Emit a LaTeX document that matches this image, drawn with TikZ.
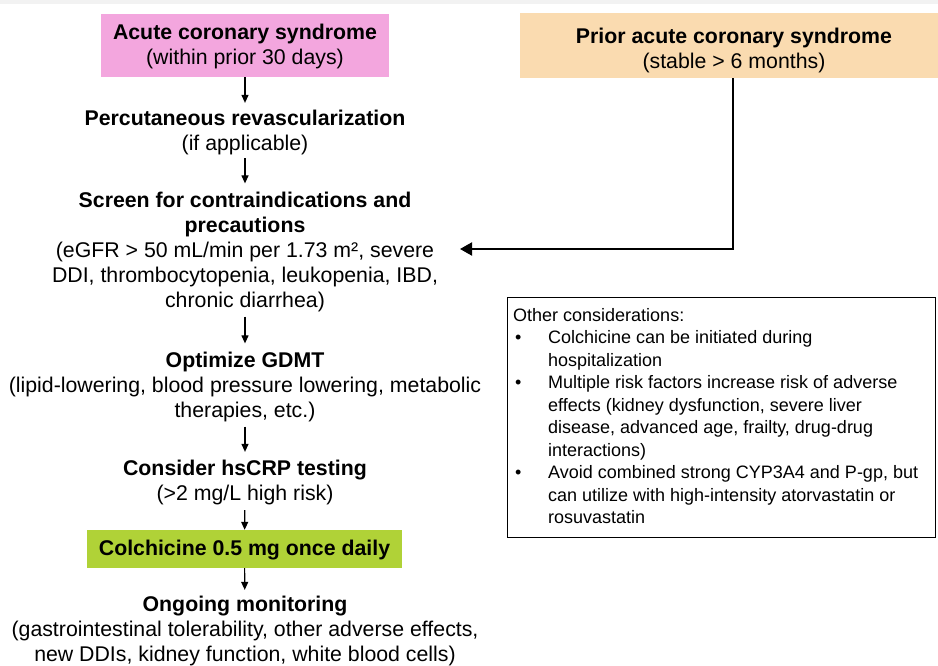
\documentclass[tikz,border=0pt]{standalone}
\usepackage{fontspec}
\setmainfont{Liberation Sans}
\usetikzlibrary{arrows.meta}
\definecolor{pinkbox}{RGB}{243,166,222}
\definecolor{orangebox}{RGB}{250,219,176}
\definecolor{greenbox}{RGB}{176,210,55}
\definecolor{topband}{RGB}{242,242,242}
\begin{document}
\begin{tikzpicture}[x=1pt,y=-1pt,
  txt/.style={align=center,inner sep=0pt,font=\fontsize{21.3}{25}\selectfont},
  colbox/.style={txt,minimum width=#1},
  arr/.style={-{Triangle[width=7pt,length=8pt]},line width=1.2pt},
  bigarr/.style={-{Triangle[width=13pt,length=12pt]},line width=2pt},
  note/.style={align=left,inner sep=0pt,font=\fontsize{18}{22.5}\selectfont}]
\useasboundingbox (0,0) rectangle (938,666);
\fill[topband] (0,0) rectangle (938,4);

% boxes
\node[colbox=288pt,minimum height=63pt,fill=pinkbox] (acs) at (245,45.5) {};
\node[txt] (acstxt) at (245,46.5)
  {\textbf{Acute coronary syndrome}\\(within prior 30 days)};
\node[colbox=428pt,minimum height=65pt,fill=orangebox] (prior) at (734,45.5) {};
\node[txt] (priortxt) at (734,50)
  {\textbf{Prior acute coronary syndrome}\\(stable > 6 months)};

% left column
\node[txt] (pci) at (245,132.5) {\textbf{Percutaneous revascularization}\\(if applicable)};
\node[txt] (screen) at (245,251.5) {\textbf{Screen for contraindications and}\\\textbf{precautions}\\(eGFR > 50 mL/min per 1.73 m², severe\\DDI, thrombocytopenia, leukopenia, IBD,\\chronic diarrhea)};
\node[txt] (gdmt) at (245,386.5) {\textbf{Optimize GDMT}\\(lipid-lowering, blood pressure lowering, metabolic\\therapies, etc.)};
\node[txt] (crp) at (245,482.5) {\textbf{Consider hsCRP testing}\\(>2 mg/L high risk)};
\node[colbox=315pt,minimum height=38pt,fill=greenbox] (colch) at (244.5,549) {};
\node[txt] (colchtxt) at (244.5,550.5) {\textbf{Colchicine 0.5 mg once daily}};
\node[txt] (mon) at (245,631) {\textbf{Ongoing monitoring}\\(gastrointestinal tolerability, other adverse effects,\\new DDIs, kidney function, white blood cells)};

% connectors
\draw[arr,shorten >=7pt] (acs) -- (pci);
\draw[arr,shorten <=3pt,shorten >=8pt] (pci) -- (screen);
\draw[arr,shorten <=5pt,shorten >=8pt] (screen) -- (gdmt);
\draw[arr,shorten <=5pt,shorten >=8pt] (gdmt) -- (crp);
\draw[arr,shorten <=5pt] (crp) -- (colch);
\draw[arr,shorten >=6pt] (colch) -- (mon);

\coordinate (elbow) at (733,249);
\coordinate (tip) at (460,249);
\draw[bigarr] (prior.south -| elbow) -- (elbow) -- (tip);

% other considerations
\node[draw,line width=1pt,anchor=north west,minimum width=428pt,minimum height=240pt,inner sep=0pt] (other) at (507,297) {};
\node[note,anchor=north west] (othertxt) at ([xshift=6pt,yshift=-11pt]other.north west)
 {Other considerations:\\
  \makebox[35pt][l]{\hspace{2pt}\textbullet}Colchicine can be initiated during\\
  \hspace*{35pt}hospitalization\\
  \makebox[35pt][l]{\hspace{2pt}\textbullet}Multiple risk factors increase risk of adverse\\
  \hspace*{35pt}effects (kidney dysfunction, severe liver\\
  \hspace*{35pt}disease, advanced age, frailty, drug-drug\\
  \hspace*{35pt}interactions)\\
  \makebox[35pt][l]{\hspace{2pt}\textbullet}Avoid combined strong CYP3A4 and P-gp, but\\
  \hspace*{35pt}can utilize with high-intensity atorvastatin or\\
  \hspace*{35pt}rosuvastatin};
\end{tikzpicture}
\end{document}
